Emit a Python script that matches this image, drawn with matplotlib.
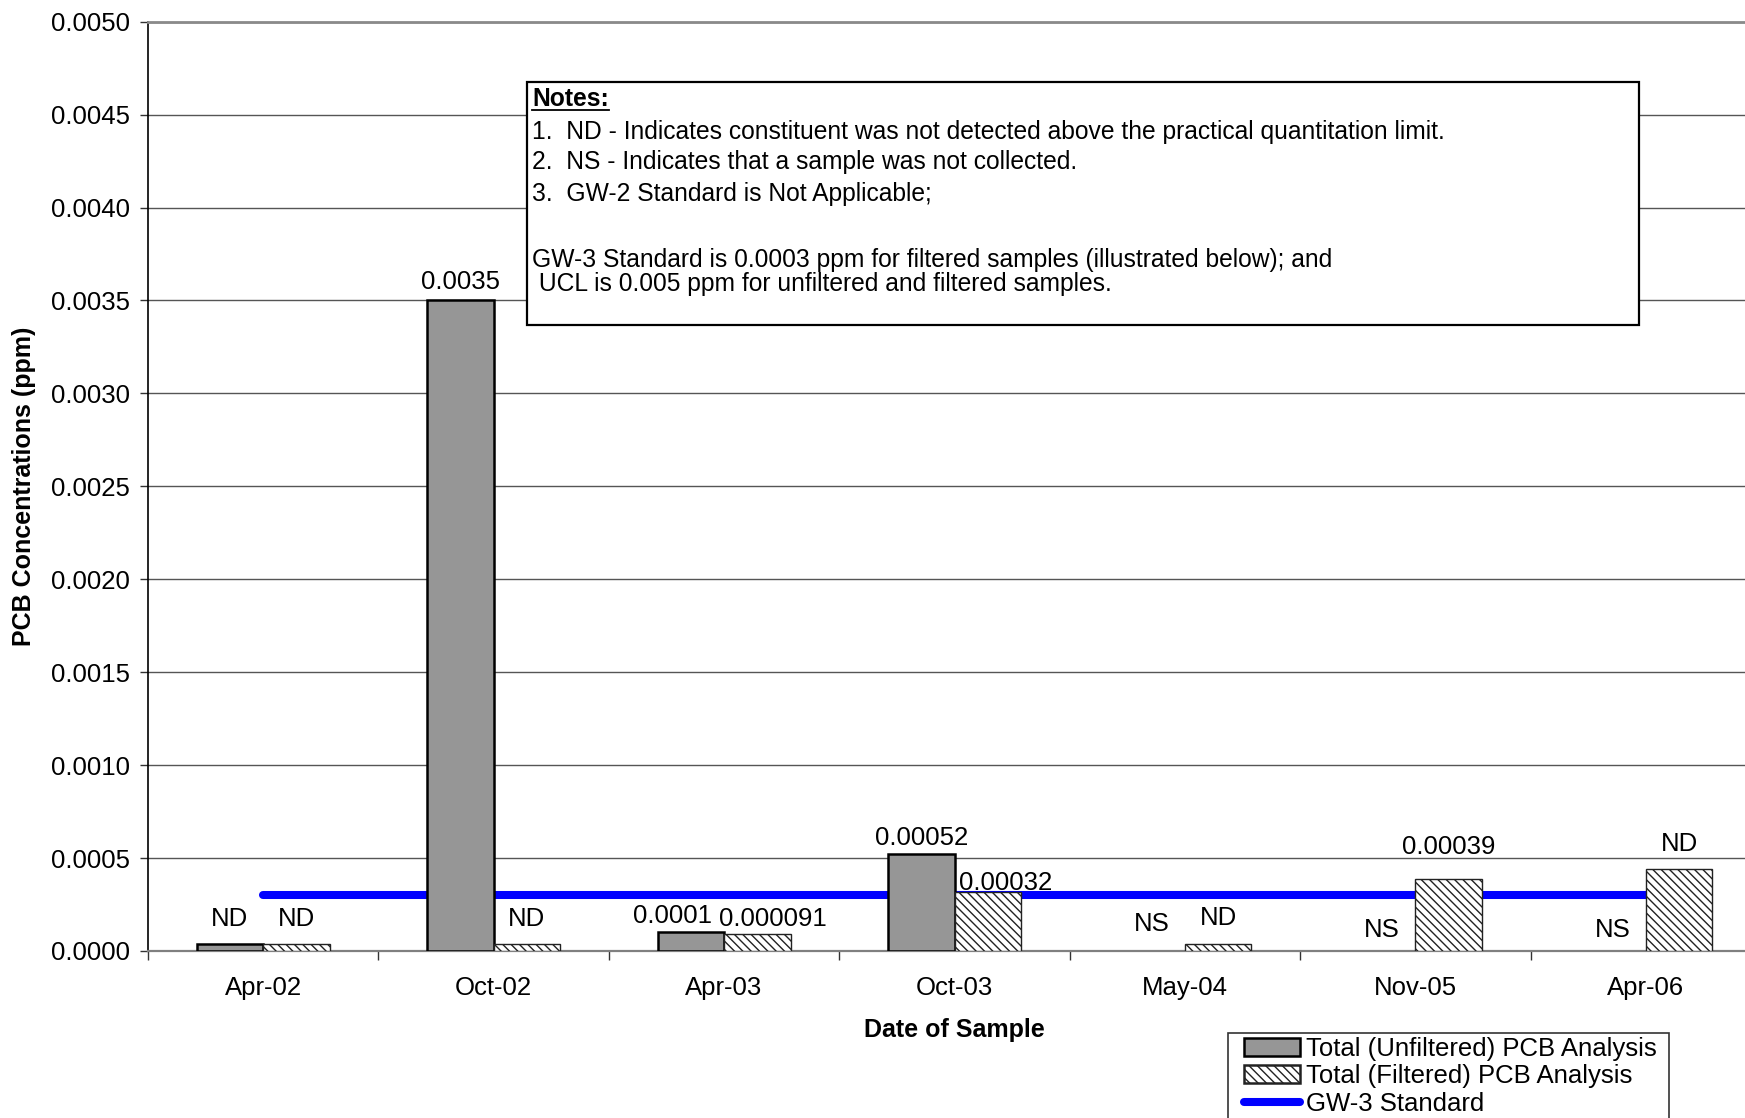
import matplotlib
matplotlib.use("Agg")
import matplotlib.pyplot as plt
from matplotlib.patches import Rectangle, Patch
from matplotlib.lines import Line2D
import numpy as np

# ---- data ----
categories = ['Apr-02', 'Oct-02', 'Apr-03', 'Oct-03', 'May-04', 'Nov-05', 'Apr-06']
unfiltered = [0.00004, 0.0035, 0.0001, 0.00052, 0.0, 0.0, 0.0]
filtered = [0.00004, 0.00004, 0.000091, 0.00032, 0.00004, 0.00039, 0.00044]
unf_labels = ['ND', '0.0035', '0.0001', '0.00052', 'NS', 'NS', 'NS']
fil_labels = ['ND', 'ND', '0.000091', '0.00032', 'ND', '0.00039', 'ND']
gw3_standard = [0.0003, 0.0003, 0.0003, 0.0003, 0.0003, 0.0003, 0.0003]
yticks = [0.0, 0.0005, 0.0010, 0.0015, 0.0020, 0.0025, 0.0030, 0.0035, 0.0040, 0.0045, 0.0050]

notes_lines = [
    "1.  ND - Indicates constituent was not detected above the practical quantitation limit.",
    "2.  NS - Indicates that a sample was not collected.",
    "3.  GW-2 Standard is Not Applicable;",
    "GW-3 Standard is 0.0003 ppm for filtered samples (illustrated below); and",
    " UCL is 0.005 ppm for unfiltered and filtered samples.",
]

# ---- style / layout ----
FONT = 'Liberation Sans'
FS = 18.5       # tick labels, bar labels, legend
FS_B = 18.0     # bold axis titles
FS_N = 17.7     # notes
plt.rcParams['font.family'] = [FONT, 'DejaVu Sans']
plt.rcParams['hatch.linewidth'] = 1.0

W, H = 1745, 1118
fig = plt.figure(figsize=(W / 100, H / 100), dpi=100)

def fx(px):
    return px / W

def fy(py):
    return 1 - py / H

ax_left, ax_right, ax_top, ax_bot = 148, 1761, 21.7, 951
ax = fig.add_axes([fx(ax_left), fy(ax_bot), fx(ax_right - ax_left), (ax_bot - ax_top) / H])

x = np.arange(len(categories))
bw = 0.2886

ax.set_xlim(-0.5, len(categories) - 0.5)
ax.set_ylim(0, 0.005)

# grid
ax.set_yticks(yticks)
ax.set_yticklabels([f"{v:.4f}" for v in yticks], fontsize=FS)
ax.yaxis.grid(True, color='#555555', linewidth=1.0, zorder=0)
ax.set_axisbelow(True)

# GW-3 line (behind bars)
ax.plot(x, gw3_standard, color='#0000FF', linewidth=5.8, solid_capstyle='round', zorder=2)

b1 = ax.bar(x - bw / 2, unfiltered, width=bw, color='#969696', edgecolor='black',
            linewidth=1.8, zorder=3)
b2 = ax.bar(x + bw / 2, filtered, width=bw, color='white', edgecolor='#222222',
            hatch='\\\\\\\\', linewidth=1.0, zorder=3)
for rect in list(b1) + list(b2):
    if rect.get_height() == 0:
        rect.set_visible(False)

# bar labels (offsets in pixels)
unf_dx = [0, 0, -18, 0, 0, 0, 0]
unf_dy = [18, 11, 9, 9, 20, 14, 14]
fil_dx = [0, 0, 16, 18, 0, 0, 0]
fil_dy = [18, 18, 8, 2, 19, 25, 18]
for i in range(len(categories)):
    ax.annotate(unf_labels[i], (x[i] - bw / 2, unfiltered[i]), xytext=(unf_dx[i], unf_dy[i]),
                textcoords='offset pixels', ha='center', va='baseline', fontsize=FS, zorder=5)
    ax.annotate(fil_labels[i], (x[i] + bw / 2, filtered[i]), xytext=(fil_dx[i], fil_dy[i]),
                textcoords='offset pixels', ha='center', va='baseline', fontsize=FS, zorder=5)

# x axis ticks
ax.set_xticks(x)
ax.set_xticklabels(categories, fontsize=FS)
ax.set_xticks(np.arange(len(categories) + 1) - 0.5, minor=True)
ax.tick_params(axis='x', which='major', length=0, pad=18)
ax.tick_params(axis='x', which='minor', length=6.5, width=1.0, color='#333333', direction='out')
ax.tick_params(axis='y', which='major', length=5.8, width=1.0, color='#333333', pad=7)

ax.spines['right'].set_visible(False)
ax.spines['top'].set_color('#8a8a8a')
ax.spines['top'].set_linewidth(2.0)
ax.spines['left'].set_color('black')
ax.spines['left'].set_linewidth(1.2)
ax.spines['bottom'].set_color('#808080')
ax.spines['bottom'].set_linewidth(1.6)

# axis titles
fig.text(fx(24.5), fy(486), 'PCB Concentrations (ppm)', rotation=90, ha='center', va='center',
         fontsize=FS_B, fontweight='bold')
fig.text(fx(954), fy(1030), 'Date of Sample', ha='center', va='center',
         fontsize=FS_B, fontweight='bold')

# notes box
nb_l, nb_t, nb_r, nb_b = 527, 82, 1639, 325
fig.patches.append(Rectangle((fx(nb_l), fy(nb_b)), fx(nb_r - nb_l), (nb_b - nb_t) / H,
                             transform=fig.transFigure, facecolor='white', edgecolor='black',
                             linewidth=1.6, zorder=10))
t_notes = fig.text(fx(532), fy(106.5), 'Notes:', ha='left', va='baseline', fontsize=FS_N,
                   fontweight='bold', zorder=11)
note_base = [138.5, 169.5, 201, 266.5, 291]
for ln, yb in zip(notes_lines, note_base):
    fig.text(fx(532), fy(yb), ln, ha='left', va='baseline', fontsize=FS_N, zorder=11)

fig.canvas.draw()
bb = t_notes.get_window_extent()
fig.add_artist(Line2D([bb.x0 / W, bb.x1 / W], [fy(109.5), fy(109.5)], transform=fig.transFigure,
                      color='black', linewidth=1.3, zorder=11))

# legend (frame drawn separately)
lg_l, lg_t, lg_r, lg_b = 1228, 1033, 1669, 1130
fig.patches.append(Rectangle((fx(lg_l), fy(lg_b)), fx(lg_r - lg_l), (lg_b - lg_t) / H,
                             transform=fig.transFigure, facecolor='white', edgecolor='#333333',
                             linewidth=1.2, zorder=1))
handles = [Patch(facecolor='#969696', edgecolor='black', linewidth=1.8),
           Patch(facecolor='white', edgecolor='#222222', hatch='\\\\\\\\', linewidth=1.8),
           Line2D([0], [0], color='#0000FF', linewidth=5.8, solid_capstyle='round')]
labels = ['Total (Unfiltered) PCB Analysis', 'Total (Filtered) PCB Analysis', 'GW-3 Standard']
leg = fig.legend(handles, labels, loc='upper left', bbox_to_anchor=(fx(1241), fy(1034)),
                 bbox_transform=fig.transFigure, fontsize=FS, frameon=False,
                 borderaxespad=0, borderpad=0.1, labelspacing=0.15,
                 handlelength=2.2, handletextpad=0.22, handleheight=0.7)

fig.savefig('out.png', dpi=100)
